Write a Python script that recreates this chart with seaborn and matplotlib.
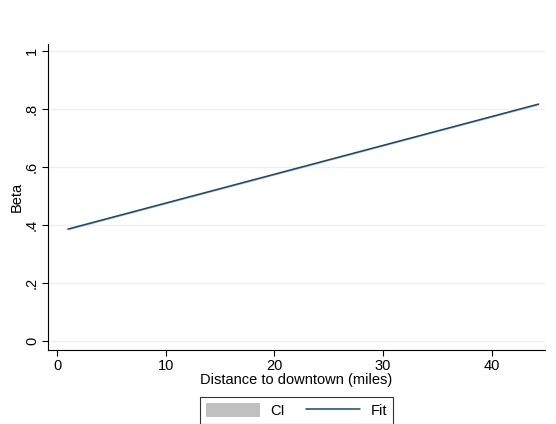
"""Linear fit of beta against distance to downtown, Stata-like look"""
import matplotlib
matplotlib.use("Agg")
import matplotlib.pyplot as plt
from matplotlib.patches import Patch
from matplotlib.lines import Line2D
import seaborn as sns
import pandas as pd

# data
distance = [1.0, 44.3]
fit = [0.386, 0.817]
ci_lower = [0.383, 0.814]
ci_upper = [0.389, 0.820]
y_ticks = [0, 0.2, 0.4, 0.6, 0.8, 1.0]
y_tick_labels = ["0", ".2", ".4", ".6", ".8", "1"]
x_ticks = [0, 10, 20, 30, 40]

sns.set_style("white")
plt.rcParams["font.family"] = ["Liberation Sans", "DejaVu Sans"]
plt.rcParams["text.color"] = "black"
plt.rcParams["axes.labelcolor"] = "black"
plt.rcParams["xtick.color"] = "black"
plt.rcParams["ytick.color"] = "black"

df = pd.DataFrame({"distance": distance, "fit": fit})

fig = plt.figure(figsize=(5.56, 4.24), dpi=100)
ax = fig.add_axes([0.0863, 0.1745, 0.894, 0.7215])

# CI band (very narrow) and fitted line
ax.fill_between(distance, ci_lower, ci_upper, color="#c0c0c0", lw=0)
sns.lineplot(data=df, x="distance", y="fit", color="#1a476f", lw=1.1, ax=ax)

ax.set_xlim(-0.83, 44.9)
ax.set_ylim(-0.031, 1.024)
ax.set_yticks(y_ticks)
ax.set_yticklabels(y_tick_labels, rotation=90, va="center")
ax.set_xticks(x_ticks)
ax.tick_params(axis="both", labelsize=10.5, length=4, width=0.8, color="black",
               labelcolor="black", direction="out", left=True, bottom=True, pad=2.5)
ax.yaxis.grid(True, color="#eaf2f3", lw=1)
ax.set_axisbelow(True)

for side in ["top", "right"]:
    ax.spines[side].set_visible(False)
for side in ["left", "bottom"]:
    ax.spines[side].set_color("black")
    ax.spines[side].set_linewidth(0.8)

ax.set_xlabel("Distance to downtown (miles)", fontsize=10.5, labelpad=0)
ax.set_ylabel("Beta", fontsize=10.5, labelpad=1)

handles = [Patch(facecolor="#c0c0c0", edgecolor="none"),
           Line2D([0], [0], color="#1a476f", lw=1.1)]
leg = fig.legend(handles, ["CI", "Fit"], loc="center", bbox_to_anchor=(0.533, 0.032),
                 ncol=2, fontsize=10.5, frameon=True, fancybox=False,
                 edgecolor="black", handlelength=3.7, handleheight=1.1,
                 handletextpad=0.7, columnspacing=1.5, borderpad=0.4)
leg.get_frame().set_linewidth(0.8)

fig.savefig("out.png", dpi=100, facecolor="white")
